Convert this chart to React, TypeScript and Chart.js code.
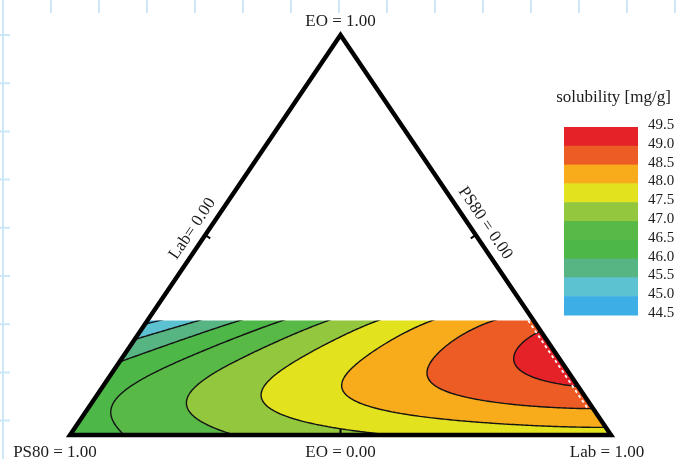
import React, { useEffect, useRef } from 'react';
import { Chart, registerables } from 'chart.js';

Chart.register(...registerables);

// Upper limit of the EO fraction covered by the design region
const EO_MAX = 0.286;
// Lower PS80 limit along the Lab-rich edge (dashed constraint)
const PS80_MIN = 0.01;
const DASH_EO = [EO_MAX, 0.0625];

// Colour scale of solubility [mg/g]
const LEGEND_TICKS = [44.5, 45.0, 45.5, 46.0, 46.5, 47.0, 47.5, 48.0, 48.5, 49.0, 49.5];
const BAND_COLORS = ['#3daee6', '#5cc1d1', '#57b583', '#4db748', '#58b947', '#93c83e', '#e2e21e', '#f8ab1b', '#ee5c26', '#e42228'];
const CONTOUR_LEVELS = [45.0, 45.5, 46.0, 46.5, 47.0, 47.5, 48.0, 48.5, 49.0];

// Iso-solubility traces as [EO, Lab] mass fractions
const TRACE_45_0 = [[0.286, 0.018], [0.275, 0.0]];
const TRACE_45_5 = [[0.286, 0.091], [0.2625, 0.047], [0.239, 0.0]];
const TRACE_46_0 = [[0.286, 0.171], [0.2375, 0.091], [0.183, 0.0]];
const TRACE_46_5 = [[0.286, 0.254], [0.2125, 0.134], [0.1375, 0.061], [0.0625, 0.046], [0.03, 0.07], [0.005, 0.1]];
const TRACE_47_0 = [[0.286, 0.337], [0.196, 0.235], [0.129, 0.176], [0.071, 0.177], [0.0325, 0.224], [0.005, 0.294]];
const TRACE_47_5 = [[0.286, 0.418], [0.2475, 0.375], [0.196, 0.327], [0.1, 0.304], [0.04, 0.39], [0.011, 0.49], [0.005, 0.588]];
const TRACE_48_0 = [[0.286, 0.528], [0.2125, 0.467], [0.129, 0.438], [0.071, 0.525], [0.042, 0.663], [0.029, 0.793], [0.0225, 0.9775]];
const TRACE_48_5 = [[0.286, 0.646], [0.2375, 0.584], [0.158, 0.58], [0.0875, 0.702], [0.071, 0.833], [0.0625, 0.9375]];
const TRACE_49_0 = [[0.258, 0.742], [0.1875, 0.732], [0.1375, 0.8], [0.125, 0.875]];
const TRACES = [TRACE_45_0, TRACE_45_5, TRACE_46_0, TRACE_46_5, TRACE_47_0, TRACE_47_5, TRACE_48_0, TRACE_48_5, TRACE_49_0];

// Single readings inside the bands
const SPOT_EO = [0.0, 0.06, 0.286, 0.286, 0.19, 0.005, 0.0];
const SPOT_LAB = [0.0, 0.0, 0.0, 0.714, 0.81, 0.8, 1.0];
const SPOT_VALUE = [46.3, 46.35, 44.85, 48.8, 49.25, 47.8, 47.85];

// Corner and edge captions
const VERTEX_LABELS = ['PS80 = 1.00', 'Lab = 1.00', 'EO = 1.00'];
const BASE_LABEL = 'EO = 0.00';
const LEFT_EDGE_LABEL = 'Lab= 0.00';
const RIGHT_EDGE_LABEL = 'PS80 = 0.00';
const LEGEND_TITLE = 'solubility [mg/g]';

const SERIF = '"Liberation Serif", "Times New Roman", serif';
const TEXT_COLOR = '#1c1c1c';

// Ternary composition -> cartesian chart units (PS80 bottom-left, Lab bottom-right, EO top)
function toXY(eo: number, lab: number) {
  return { x: lab + eo / 2, y: eo };
}

// Response surface: polynomial in (EO, Lab) fitted to the traces
const DEGREE = 5;
function basis(eo: number, lab: number): number[] {
  const a = eo / EO_MAX;
  const out: number[] = [];
  for (let i = 0; i <= DEGREE; i++) {
    for (let j = 0; j <= DEGREE - i; j++) out.push(Math.pow(a, i) * Math.pow(lab, j));
  }
  return out;
}

function fitSurface(): number[] {
  const rows: number[][] = [];
  const vals: number[] = [];
  TRACES.forEach((tr, k) => tr.forEach(([e, l]) => { rows.push(basis(e, l)); vals.push(CONTOUR_LEVELS[k]); }));
  SPOT_EO.forEach((e, i) => { rows.push(basis(e, SPOT_LAB[i])); vals.push(SPOT_VALUE[i]); });
  const n = rows[0].length;
  const M = Array.from({ length: n }, () => new Array(n + 1).fill(0));
  rows.forEach((r, k) => {
    for (let i = 0; i < n; i++) {
      for (let j = 0; j < n; j++) M[i][j] += r[i] * r[j];
      M[i][n] += r[i] * vals[k];
    }
  });
  for (let i = 0; i < n; i++) M[i][i] += 1e-6;
  for (let c = 0; c < n; c++) {
    let p = c;
    for (let r = c + 1; r < n; r++) if (Math.abs(M[r][c]) > Math.abs(M[p][c])) p = r;
    [M[c], M[p]] = [M[p], M[c]];
    for (let r = 0; r < n; r++) {
      if (r === c) continue;
      const f = M[r][c] / M[c][c];
      for (let k = c; k <= n; k++) M[r][k] -= f * M[c][k];
    }
  }
  return M.map((row, i) => row[n] / row[i]);
}

const COEFFS = fitSurface();
function solubility(eo: number, lab: number): number {
  const b = basis(eo, lab);
  let s = 0;
  for (let i = 0; i < b.length; i++) s += b[i] * COEFFS[i];
  return s;
}

function hexToRgb(h: string) {
  const n = parseInt(h.slice(1), 16);
  return [(n >> 16) & 255, (n >> 8) & 255, n & 255];
}
const BAND_RGB = BAND_COLORS.map(hexToRgb);

function regionPath(chart: any, ctx: CanvasRenderingContext2D) {
  const xs = chart.scales.x, ys = chart.scales.y;
  const corners = [toXY(0, 0), toXY(0, 1), toXY(EO_MAX, 1 - EO_MAX), toXY(EO_MAX, 0)];
  ctx.beginPath();
  corners.forEach((c, i) => {
    const px = xs.getPixelForValue(c.x), py = ys.getPixelForValue(c.y);
    if (i === 0) ctx.moveTo(px, py); else ctx.lineTo(px, py);
  });
  ctx.closePath();
}

function drawSurface(chart: any) {
  const { ctx } = chart;
  const xs = chart.scales.x, ys = chart.scales.y;
  const x0 = Math.floor(xs.getPixelForValue(0)) - 2;
  const x1 = Math.ceil(xs.getPixelForValue(1)) + 2;
  const y0 = Math.floor(ys.getPixelForValue(EO_MAX)) - 1;
  const y1 = Math.ceil(ys.getPixelForValue(0)) + 2;
  const w = x1 - x0, h = y1 - y0;

  const img = ctx.createImageData(w, h);
  const lo = LEGEND_TICKS[0], step = LEGEND_TICKS[1] - LEGEND_TICKS[0];
  for (let j = 0; j < h; j++) {
    const e = ys.getValueForPixel(y0 + j + 0.5);
    for (let i = 0; i < w; i++) {
      const u = xs.getValueForPixel(x0 + i + 0.5);
      const lab = u - e / 2;
      const v = solubility(e, lab);
      let k = Math.floor((v - lo) / step);
      k = Math.max(0, Math.min(BAND_RGB.length - 1, k));
      const c = BAND_RGB[k];
      const o = (j * w + i) * 4;
      img.data[o] = c[0]; img.data[o + 1] = c[1]; img.data[o + 2] = c[2]; img.data[o + 3] = 255;
    }
  }
  const off = document.createElement('canvas');
  off.width = w; off.height = h;
  off.getContext('2d')!.putImageData(img, 0, 0);

  ctx.save();
  regionPath(chart, ctx);
  ctx.clip();
  ctx.drawImage(off, x0, y0);

  // iso-lines by marching squares on a fine pixel grid
  const g = 2;
  const nx = Math.ceil(w / g) + 1, ny = Math.ceil(h / g) + 1;
  const V: number[] = new Array(nx * ny);
  for (let j = 0; j < ny; j++) {
    const e = ys.getValueForPixel(y0 + j * g);
    for (let i = 0; i < nx; i++) {
      const u = xs.getValueForPixel(x0 + i * g);
      V[j * nx + i] = solubility(e, u - e / 2);
    }
  }
  ctx.beginPath();
  CONTOUR_LEVELS.forEach((L) => {
    for (let j = 0; j < ny - 1; j++) {
      for (let i = 0; i < nx - 1; i++) {
        const v00 = V[j * nx + i], v10 = V[j * nx + i + 1];
        const v01 = V[(j + 1) * nx + i], v11 = V[(j + 1) * nx + i + 1];
        const px = x0 + i * g, py = y0 + j * g;
        const pts: (number[] | null)[] = [];
        const edge = (va: number, vb: number, ax: number, ay: number, bx: number, by: number) => {
          if ((va < L) !== (vb < L)) {
            const t = (L - va) / (vb - va);
            pts.push([ax + (bx - ax) * t, ay + (by - ay) * t]);
          } else pts.push(null);
        };
        edge(v00, v10, px, py, px + g, py);         // top
        edge(v10, v11, px + g, py, px + g, py + g); // right
        edge(v11, v01, px + g, py + g, px, py + g); // bottom
        edge(v01, v00, px, py + g, px, py);         // left
        const hit = pts.filter((p) => p) as number[][];
        if (hit.length === 2) {
          ctx.moveTo(hit[0][0], hit[0][1]);
          ctx.lineTo(hit[1][0], hit[1][1]);
        } else if (hit.length === 4) {
          const centre = (v00 + v10 + v01 + v11) / 4;
          const pairs = ((centre < L) === (v00 < L)) ? [[0, 1], [2, 3]] : [[3, 0], [1, 2]];
          pairs.forEach(([a, b]) => {
            ctx.moveTo(pts[a]![0], pts[a]![1]);
            ctx.lineTo(pts[b]![0], pts[b]![1]);
          });
        }
      }
    }
  });
  ctx.strokeStyle = '#141414';
  ctx.lineWidth = 1.4;
  ctx.lineCap = 'round';
  ctx.lineJoin = 'round';
  ctx.stroke();
  ctx.restore();
}

function drawPageMarks(chart: any) {
  const { ctx, width, height } = chart;
  ctx.save();
  ctx.strokeStyle = '#cce7f6';
  ctx.lineWidth = 2;
  ctx.beginPath();
  ctx.moveTo(3, 0); ctx.lineTo(3, height);
  for (let x = 51; x < width; x += 48) { ctx.moveTo(x, 0); ctx.lineTo(x, 13); }
  for (let y = 35; y < height - 20; y += 48.2) { ctx.moveTo(0, y); ctx.lineTo(10, y); }
  ctx.stroke();
  ctx.restore();
}

function drawText(ctx: CanvasRenderingContext2D, text: string, x: number, y: number, size: number, align: CanvasTextAlign, baseline: CanvasTextBaseline, rot = 0) {
  ctx.save();
  ctx.translate(x, y);
  if (rot) ctx.rotate(rot);
  ctx.font = `${size}px ${SERIF}`;
  ctx.fillStyle = TEXT_COLOR;
  ctx.textAlign = align;
  ctx.textBaseline = baseline;
  ctx.fillText(text, 0, 0);
  ctx.restore();
}

function drawAnnotations(chart: any) {
  const { ctx } = chart;
  const xs = chart.scales.x, ys = chart.scales.y;
  const P = (eo: number, lab: number) => {
    const c = toXY(eo, lab);
    return [xs.getPixelForValue(c.x), ys.getPixelForValue(c.y)];
  };
  const ps = P(0, 0), lb = P(0, 1), eo = P(1, 0);
  const cx = (ps[0] + lb[0] + eo[0]) / 3, cy = (ps[1] + lb[1] + eo[1]) / 3;

  // unit vector along an edge (base vertex -> apex) and its outward normal
  const frame = (a: number[], b: number[]) => {
    const dx = b[0] - a[0], dy = b[1] - a[1];
    const len = Math.hypot(dx, dy);
    const ux = dx / len, uy = dy / len;
    let nx = -uy, ny = ux;
    const mx = (a[0] + b[0]) / 2, my = (a[1] + b[1]) / 2;
    if ((cx - mx) * nx + (cy - my) * ny > 0) { nx = -nx; ny = -ny; }
    return { mx, my, ux, uy, nx, ny };
  };
  const fl = frame(ps, eo), fr = frame(lb, eo), fb = frame(ps, lb);

  // mid-edge ticks pointing inwards
  ctx.save();
  ctx.strokeStyle = '#000';
  ctx.lineWidth = 2;
  ctx.beginPath();
  [fl, fr, fb].forEach((f) => {
    ctx.moveTo(f.mx, f.my);
    ctx.lineTo(f.mx - f.nx * 6, f.my - f.ny * 6);
  });
  ctx.stroke();
  ctx.restore();

  // vertex and base captions
  drawText(ctx, VERTEX_LABELS[2], eo[0], eo[1] - 9, 17, 'center', 'alphabetic');
  drawText(ctx, VERTEX_LABELS[0], ps[0] - 15, ps[1] + 21.5, 17, 'center', 'alphabetic');
  drawText(ctx, VERTEX_LABELS[1], lb[0] - 4, lb[1] + 21.5, 17, 'center', 'alphabetic');
  drawText(ctx, BASE_LABEL, fb.mx, fb.my + 21.5, 17, 'center', 'alphabetic');

  // edge captions, parallel to the edges just outside them
  const leftAng = Math.atan2(eo[1] - ps[1], eo[0] - ps[0]);
  drawText(ctx, LEFT_EDGE_LABEL, fl.mx + fl.nx * 14 - fl.ux * 2, fl.my + fl.ny * 14 - fl.uy * 2, 17, 'center', 'middle', leftAng);
  const rightAng = Math.atan2(lb[1] - eo[1], lb[0] - eo[0]);
  drawText(ctx, RIGHT_EDGE_LABEL, fr.mx + fr.nx * 14.5 + fr.ux * 4.5, fr.my + fr.ny * 14.5 + fr.uy * 4.5, 17, 'center', 'middle', rightAng);

  // colour bar
  const barX = 564, barW = 74, barTop = 127, bandH = 18.8;
  const nb = BAND_COLORS.length;
  for (let k = 0; k < nb; k++) {
    ctx.fillStyle = BAND_COLORS[nb - 1 - k];
    ctx.fillRect(barX, barTop + k * bandH, barW, bandH + 0.5);
  }
  drawText(ctx, LEGEND_TITLE, 613.5, 102, 17, 'center', 'alphabetic');
  LEGEND_TICKS.slice().reverse().forEach((t, k) => {
    drawText(ctx, t.toFixed(1), 648, barTop + k * bandH - 2, 15, 'left', 'middle');
  });
}

const ternaryPlugin = {
  id: 'ternaryContour',
  beforeDraw: (chart: any) => drawPageMarks(chart),
  beforeDatasetsDraw: (chart: any) => drawSurface(chart),
  afterDatasetsDraw: (chart: any) => drawAnnotations(chart),
};

export default function App() {
  const ref = useRef<HTMLCanvasElement>(null);
  useEffect(() => {
    const outline = [toXY(0, 0), toXY(0, 1), toXY(1, 0), toXY(0, 0), toXY(0, 1)];
    const dash = DASH_EO.map((e) => toXY(e, 1 - e - PS80_MIN));
    const chart = new Chart(ref.current!, {
      type: 'scatter',
      data: {
        datasets: [
          {
            data: outline,
            showLine: true,
            borderColor: '#000',
            borderWidth: 4.4,
            borderJoinStyle: 'miter',
            pointRadius: 0,
            clip: false as any,
          },
          {
            data: dash,
            showLine: true,
            borderColor: '#ffffff',
            borderWidth: 1.8,
            borderDash: [3, 3],
            pointRadius: 0,
          },
        ],
      },
      options: {
        animation: false,
        responsive: false,
        events: [],
        layout: { padding: { left: 70, right: 67, top: 35, bottom: 24 } },
        plugins: { legend: { display: false }, tooltip: { enabled: false } },
        scales: {
          x: { type: 'linear', min: 0, max: 1, display: false },
          y: { type: 'linear', min: 0, max: 1, display: false },
        },
      },
      plugins: [ternaryPlugin],
    });
    return () => chart.destroy();
  }, []);
  return (
    <div style={{ position: 'absolute', left: 0, top: 0, width: 678, height: 459, background: '#fff' }}>
      <canvas ref={ref} width={678} height={459} />
    </div>
  );
}
